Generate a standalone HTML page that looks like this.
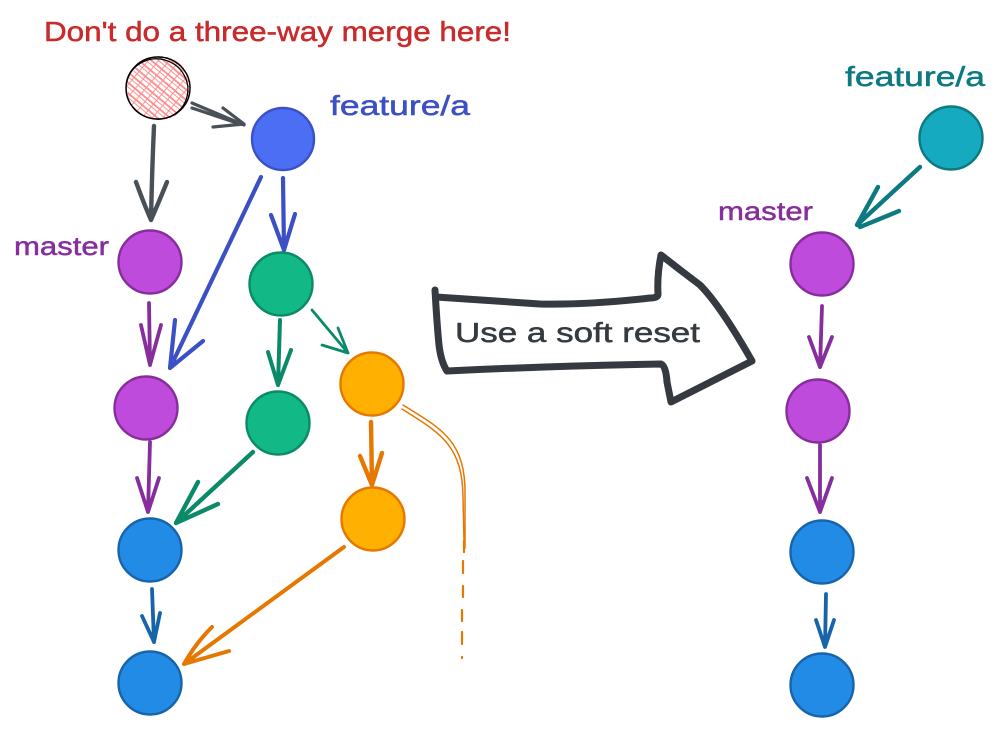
<!DOCTYPE html>
<html>
<head>
<meta charset="utf-8">
<style>
html,body{margin:0;padding:0;background:#fff;width:1000px;height:731px;overflow:hidden}
svg{display:block}
text{font-family:"Liberation Sans",sans-serif;stroke-width:.5;paint-order:stroke}
.a{fill:none;stroke-linecap:round;stroke-linejoin:round}
</style>
</head>
<body>
<svg width="1000" height="731" viewBox="0 0 1000 731" xmlns="http://www.w3.org/2000/svg">
<defs>
<pattern id="h" width="8" height="8" patternUnits="userSpaceOnUse" patternTransform="rotate(40 0 0)">
<rect width="8" height="8" fill="#fff"/>
<path d="M0 0H8M0 0V8M0 5H8" stroke="#ff8787" stroke-width="1.8"/>
</pattern>
</defs>

<!-- labels -->
<text x="44" y="41" font-size="28" fill="#c92a2a" stroke="#c92a2a" textLength="467" lengthAdjust="spacingAndGlyphs">Don't do a three-way merge here!</text>
<text x="330" y="115" font-size="28" fill="#3b50c4" stroke="#3b50c4" textLength="140" lengthAdjust="spacingAndGlyphs">feature/a</text>
<text x="14" y="255" font-size="26" fill="#862e9c" stroke="#862e9c" textLength="95" lengthAdjust="spacingAndGlyphs">master</text>
<text x="845" y="86" font-size="28" fill="#0c7a80" stroke="#0c7a80" textLength="140" lengthAdjust="spacingAndGlyphs">feature/a</text>
<text x="718" y="220" font-size="26" fill="#862e9c" stroke="#862e9c" textLength="95" lengthAdjust="spacingAndGlyphs">master</text>

<!-- hatched node -->
<circle cx="159" cy="88" r="32" fill="url(#h)"/>
<ellipse cx="158" cy="88" rx="32" ry="31" fill="none" stroke="#000" stroke-width="1.4"/>
<ellipse cx="157" cy="89" rx="31" ry="30" fill="none" stroke="#000" stroke-width="1.2" transform="rotate(20 157 89)"/>

<!-- nodes: left -->
<g stroke-width="2.4">
<circle cx="283" cy="139" r="31" fill="#4c6ef5" stroke="#3b50c4"/>
<circle cx="150" cy="262" r="31.5" fill="#be4bdb" stroke="#862e9c"/>
<circle cx="146" cy="408" r="31.5" fill="#be4bdb" stroke="#862e9c"/>
<circle cx="150" cy="550" r="31.5" fill="#228be6" stroke="#1864ab"/>
<circle cx="150" cy="683" r="31.5" fill="#228be6" stroke="#1864ab"/>
<circle cx="281" cy="284" r="31.5" fill="#12b886" stroke="#0b8a6a"/>
<circle cx="278" cy="423" r="31.5" fill="#12b886" stroke="#0b8a6a"/>
<circle cx="372" cy="384" r="31.5" fill="#ffb000" stroke="#e67700"/>
<circle cx="373" cy="519" r="31.5" fill="#ffb000" stroke="#e67700"/>
<!-- nodes: right -->
<circle cx="951" cy="138" r="31.5" fill="#15aabf" stroke="#0c7a80"/>
<circle cx="822" cy="264" r="31.5" fill="#be4bdb" stroke="#862e9c"/>
<circle cx="818" cy="411" r="31.5" fill="#be4bdb" stroke="#862e9c"/>
<circle cx="822" cy="552" r="31.5" fill="#228be6" stroke="#1864ab"/>
<circle cx="822" cy="685" r="31.5" fill="#228be6" stroke="#1864ab"/>
</g>

<!-- arrows -->
<g class="a" stroke="#495057" stroke-width="4.4">
<path d="M154 126Q152 170 151 220M136 182Q144 204 151 220M167 182Q158 204 151 220"/>
<path d="M192 103L244 125M192 108L240 124M213 127L244 124M223 108L244 124" stroke-width="3.2"/>
</g>
<g class="a" stroke="#3b50c4" stroke-width="4.2">
<path d="M261 177L170 368M175 320L170 368M203 341L170 368"/>
<path d="M283 178L284 250M271 215L284 250M295 214L284 250"/>
</g>
<g class="a" stroke="#862e9c" stroke-width="3.8">
<path d="M149 303L150 365M141 325L150 365M161 325L150 365"/>
<path d="M150 442L148 512M137 478L148 512M159 478L148 512"/>
<path d="M822 306L820 367M809 337L820 367M832 337L820 367"/>
<path d="M820 445L820 512M807 478L820 512M832 478L820 512"/>
</g>
<g class="a" stroke="#0b8a6a" stroke-width="4">
<path d="M280 320L278 385M268 352L278 385M291 350L278 385"/>
<path d="M312 310L348 353M338 328L348 353M322 345L348 353" stroke-width="2.8"/>
<path d="M253 452L176 523M198 482L176 523M218 504L176 523" stroke-width="4.4"/>
</g>
<g class="a" stroke="#e67700" stroke-width="4">
<path d="M371 422L372 485M360 456L372 485M382 453L372 485" stroke-width="4.4"/>
<path d="M344 547L184 664M212 627Q195 644 184 664M229 651L184 664"/>
<path d="M403 405C440 428 466 440 465 495L465 548" stroke-width="1.5"/>
<path d="M402 409C438 432 463 444 463 498L464 540" stroke-width="1.5"/>
<path d="M464 541V552M463 561V573M463 586V597M462 610V621M462 632V644M462 657V658" stroke-width="2.2"/>
</g>
<g class="a" stroke="#1864ab" stroke-width="3.8">
<path d="M152 589L154 642M142 616L154 642M160 613L154 642"/>
<path d="M826 594L825 647M816 620L825 647M834 620L825 647"/>
</g>
<g class="a" stroke="#0c7a80" stroke-width="4.4">
<path d="M920 167L857 225M878 187L857 225M899 211L860 227"/>
</g>

<!-- big arrow -->
<path class="a" fill="#fff" stroke="#343a40" stroke-width="7" d="M435 290Q437 325 439 345Q441 362 447 371Q550 366 661 364Q666 366 667 382L671 402L752 361Q720 305 700 285Q680 270 661 255Q657 275 658 294Q658 298 650 298Q590 305 540 304Q480 300 436 297"/>
<text x="455" y="342" font-size="28" fill="#343a40" stroke="#343a40" textLength="245" lengthAdjust="spacingAndGlyphs">Use a soft reset</text>
</svg>
</body>
</html>
